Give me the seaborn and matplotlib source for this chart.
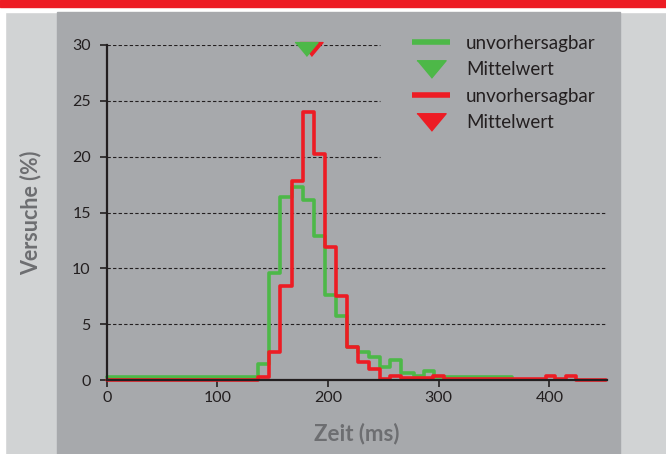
import numpy as np
import pandas as pd
import seaborn as sns
import matplotlib.pyplot as plt
from matplotlib.patches import Rectangle
from matplotlib.lines import Line2D


# Daten
zeit_gruen = [0, 137, 147, 157, 167, 177, 187, 197, 207, 217, 227, 237, 247, 256, 266, 278, 287, 296, 366]
anteil_gruen = [0.3, 1.4, 9.6, 16.4, 17.3, 16.1, 12.9, 7.6, 5.7, 3.0, 2.5, 2.1, 1.2, 1.8, 0.6, 0.4, 0.8, 0.3, 0.3]

zeit_rot = [0, 137, 147, 157, 167, 177, 187, 197, 207, 217, 227, 237, 247, 256, 266, 295, 305, 397, 405, 415, 424, 451]
anteil_rot = [0, 0.3, 2.5, 8.4, 17.8, 24.0, 20.2, 11.9, 7.5, 3.0, 1.6, 1.0, 0.1, 0.4, 0.15, 0.4, 0.1, 0.35, 0.1, 0.4, 0, 0]

mittel_gruen = 180.5
mittel_rot = 185
mittel_hoehe = 29.64

x_ticks = [0, 100, 200, 300, 400]
y_ticks = [0, 5, 10, 15, 20, 25, 30]
legende = ["unvorhersagbar", "Mittelwert", "unvorhersagbar", "Mittelwert"]

GRUEN = "#4db848"
ROT = "#ed1c24"
DUNKEL = "#231f20"
LABEL = "#6d6e71"
PANEL = "#a7a9ac"
HELL = "#d1d3d4"

W, H = 666, 454

sns.set_style("ticks")
plt.rcParams['font.family'] = ['Lato', 'DejaVu Sans']

fig = plt.figure(figsize=(W / 100, H / 100), dpi=100)
fig.patch.set_facecolor(HELL)


def rechteck(x0, y0, x1, y1, farbe):
    fig.patches.append(Rectangle((x0 / W, 1 - y1 / H), (x1 - x0) / W, (y1 - y0) / H,
                                 transform=fig.transFigure, color=farbe, zorder=-10))


rechteck(0, 0, W, 12, "white")
rechteck(0, 0, W, 6.5, ROT)
rechteck(0, 12, 5, H, "white")
rechteck(57, 12, 620, H, PANEL)

ax = fig.add_axes([106.7 / W, 1 - 380 / H, 500.3 / W, 335 / H])
ax.patch.set_visible(False)

# Hilfslinien
for y in y_ticks[1:]:
    ende = 246.7 if y >= 20 else 452
    ax.hlines(y, 0, ende, colors=DUNKEL, linestyles=(0, (3, 2)), linewidth=0.8, zorder=1)

df_gruen = pd.DataFrame({"zeit": zeit_gruen, "anteil": anteil_gruen})
df_rot = pd.DataFrame({"zeit": zeit_rot, "anteil": anteil_rot})

sns.lineplot(data=df_gruen, x="zeit", y="anteil", drawstyle="steps-post", color=GRUEN,
             linewidth=2.6, ax=ax, clip_on=False, zorder=3)
sns.lineplot(data=df_rot, x="zeit", y="anteil", drawstyle="steps-post", color=ROT,
             linewidth=2.6, ax=ax, clip_on=False, zorder=4)

dreieck = [(-1, 0.6), (1, 0.6), (0, -0.6)]
ax.plot([mittel_rot], [mittel_hoehe], marker=dreieck, markersize=16.6, color=ROT,
        linestyle="none", clip_on=False, zorder=6)
ax.plot([mittel_gruen], [mittel_hoehe], marker=dreieck, markersize=16.6, color=GRUEN,
        linestyle="none", clip_on=False, zorder=7)

ax.set_xlim(0, 452)
ax.set_ylim(0, 30)
ax.set_xticks(x_ticks)
ax.set_yticks(y_ticks)
ax.tick_params(direction="out", length=5, width=1.2, color=DUNKEL, labelsize=11.5,
               labelcolor=DUNKEL)
ax.tick_params(axis="y", pad=6.5)
ax.tick_params(axis="x", pad=2.7)

sns.despine(ax=ax)
for s in ["left", "bottom"]:
    ax.spines[s].set_linewidth(1.6)
    ax.spines[s].set_color(DUNKEL)
    ax.spines[s].set_zorder(5)

ax.set_xlabel("Zeit (ms)", fontsize=16, fontweight="bold", color=LABEL)
ax.set_ylabel("Versuche (%)", fontsize=15.5, fontweight="bold", color=LABEL)
ax.xaxis.set_label_coords(0.5, -0.128)
ax.yaxis.set_label_coords(-0.130, 0.5)

handles = [
    Line2D([], [], color=GRUEN, lw=4, solid_capstyle="butt"),
    Line2D([], [], color=GRUEN, marker=dreieck, markersize=21, linestyle="none"),
    Line2D([], [], color=ROT, lw=4, solid_capstyle="butt"),
    Line2D([], [], color=ROT, marker=dreieck, markersize=21, linestyle="none"),
]
leg = ax.legend(handles, legende, loc="upper left", bbox_to_anchor=(412 / W, 1 - 35 / H),
                bbox_transform=fig.transFigure, frameon=False, fontsize=13.5,
                handlelength=2.03, handletextpad=0.85, labelspacing=0.5,
                borderpad=0, borderaxespad=0)
for t in leg.get_texts():
    t.set_color(DUNKEL)

fig.savefig("out.png", dpi=100, facecolor=fig.get_facecolor())
